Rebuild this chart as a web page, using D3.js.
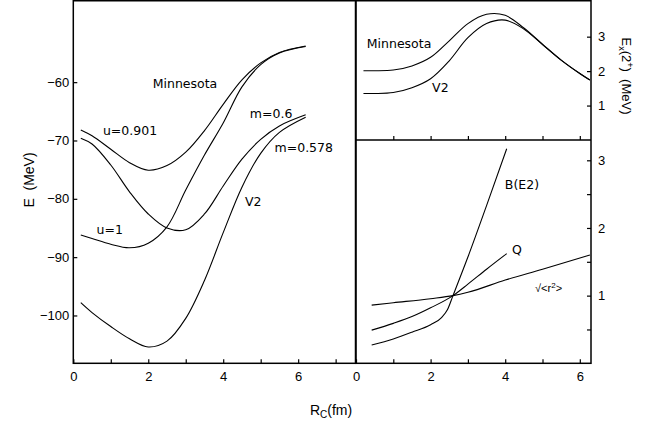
<!DOCTYPE html>
<html>
<head>
<meta charset="utf-8">
<script src="https://cdn.jsdelivr.net/npm/d3@7"></script>
<style>
body { margin: 0; background: #fff; }
text { font-family: "Liberation Sans", Arial, Helvetica, sans-serif; fill: #000; }
text.lbl { font-family: "DejaVu Sans", Verdana, sans-serif; }
</style>
</head>
<body>
<svg width="652" height="439"></svg>
<script>
// left panel: E (MeV) against R_C (fm)
var rLeft = [0.2, 0.5, 1.0, 1.5, 2.0, 2.5, 3.0, 3.5, 4.0, 4.5, 5.0, 5.5, 6.2];
var eMinnU0901 = [-68.2, -69.2, -71.5, -73.8, -75.1, -74.3, -72.0, -68.3, -63.8, -59.6, -56.7, -54.9, -53.8];
var eMinnU1 = [-86.2, -86.8, -87.8, -88.4, -87.6, -84.8, -78.5, -72.5, -67.0, -60.8, -57.0, -55.0, -53.9];
var eM06 = [-69.6, -70.6, -74.2, -78.8, -82.6, -85.0, -85.3, -82.6, -77.8, -73.2, -69.8, -67.5, -65.6];
var eV2 = [-97.8, -99.5, -101.9, -104.0, -105.4, -104.4, -100.5, -94.0, -85.8, -78.0, -72.2, -68.6, -66.0];

// top right: Ex(2+) (MeV)
var rTop = [0.2, 0.5, 1.0, 1.5, 2.0, 2.5, 3.0, 3.5, 4.0, 4.5, 5.0, 5.5, 6.0, 6.27];
var exMinn = [2.01, 2.01, 2.03, 2.15, 2.4, 2.88, 3.38, 3.65, 3.62, 3.25, 2.78, 2.32, 1.93, 1.74];
var exV2 = [1.35, 1.35, 1.38, 1.52, 1.78, 2.3, 2.97, 3.38, 3.48, 3.22, 2.77, 2.32, 1.93, 1.74];

// bottom right: ratios
var rBE2 = [0.42, 1.0, 1.5, 2.0, 2.3, 2.45, 2.6, 3.0, 3.5, 4.04];
var be2 = [0.27, 0.36, 0.46, 0.57, 0.68, 0.79, 1.0, 1.57, 2.33, 3.17];
var rQ = [0.42, 1.0, 1.5, 2.0, 2.6, 3.0, 3.5, 4.04];
var qv = [0.49, 0.59, 0.69, 0.82, 1.0, 1.17, 1.39, 1.62];
var rRad = [0.42, 1.0, 2.0, 2.6, 3.0, 4.0, 5.0, 6.27];
var radv = [0.86, 0.895, 0.955, 1.0, 1.05, 1.23, 1.39, 1.6];

var eTicks = [-60, -70, -80, -90, -100];
var rTicksL = [0, 1, 2, 3, 4, 5, 6, 7];
var rTicksR = [0, 1, 2, 3, 4, 5, 6];
var exTicks = [1, 2, 3];
var ratioTicks = [0.5, 1, 1.5, 2, 2.5, 3];

// curve labels, anchored in data units
var labelsL = [
    { t: "Minnesota", x: 2.12, y: -61.0 },
    { t: "u=0.901", x: 0.79, y: -69.0 },
    { t: "m=0.6", x: 4.71, y: -66.2 },
    { t: "m=0.578", x: 5.37, y: -71.9 },
    { t: "u=1", x: 0.62, y: -86.1 },
    { t: "V2", x: 4.58, y: -81.2 }
];
var labelsT = [
    { t: "Minnesota", x: 0.29, y: 2.68 },
    { t: "V2", x: 2.04, y: 1.38 }
];
var labelsB = [
    { t: "B(E2)", x: 3.99, y: 2.57 },
    { t: "Q", x: 4.18, y: 1.61 }
];

var svg = d3.select("svg");

var xL = d3.scaleLinear().domain([0, 7.53]).range([73.3, 355.5]);
var yL = d3.scaleLinear().domain([-108.2, -46]).range([363.3, 0.5]);
var xR = d3.scaleLinear().domain([0, 6.3]).range([356, 591]);
var yT = d3.scaleLinear().domain([0, 4.05]).range([140, 0.5]);
var yB = d3.scaleLinear().domain([0, 3.3]).range([363.3, 140]);

function minus(d) { return d < 0 ? "\u2212" + Math.abs(d) : d; }
function evens(d) { return d % 2 === 0 ? d : ""; }
function ints(d) { return d % 1 === 0 ? d : ""; }

function styleAxis(g) {
    g.select(".domain").remove();
    g.selectAll(".tick line").attr("stroke", "#000").attr("stroke-width", 1.2);
    g.attr("font-size", 13);
}

svg.append("g").attr("transform", "translate(73.3,0)")
    .call(d3.axisLeft(yL).tickValues(eTicks).tickSizeInner(-4).tickSizeOuter(0).tickPadding(4).tickFormat(minus))
    .call(styleAxis);
svg.append("g").attr("transform", "translate(0,363.3)")
    .call(d3.axisBottom(xL).tickValues(rTicksL).tickSizeInner(-4).tickSizeOuter(0).tickPadding(8).tickFormat(evens))
    .call(styleAxis);
svg.append("g").attr("transform", "translate(0,363.3)")
    .call(d3.axisBottom(xR).tickValues(rTicksR).tickSizeInner(-4).tickSizeOuter(0).tickPadding(8).tickFormat(evens))
    .call(styleAxis);
svg.append("g").attr("transform", "translate(0,140)")
    .call(d3.axisBottom(xR).tickValues(rTicksR.slice(1)).tickSizeInner(-4).tickSizeOuter(0).tickFormat(""))
    .call(styleAxis);
svg.append("g").attr("transform", "translate(591,0)")
    .call(d3.axisRight(yT).tickValues(exTicks).tickSizeInner(-4).tickSizeOuter(0).tickPadding(7).tickFormat(ints))
    .call(styleAxis);
svg.append("g").attr("transform", "translate(591,0)")
    .call(d3.axisRight(yB).tickValues(ratioTicks).tickSizeInner(-4).tickSizeOuter(0).tickPadding(7).tickFormat(ints))
    .call(styleAxis);

// frames
var frame = svg.append("g").attr("fill", "none").attr("stroke", "#000").attr("stroke-width", 1.5);
frame.append("rect").attr("x", xL.range()[0]).attr("y", 0.75)
    .attr("width", xL.range()[1] - xL.range()[0]).attr("height", 363.3 - 0.75);
frame.append("rect").attr("x", xR.range()[0]).attr("y", 0.75)
    .attr("width", xR.range()[1] - xR.range()[0]).attr("height", 363.3 - 0.75);
frame.append("line").attr("x1", xR.range()[0]).attr("x2", xR.range()[1])
    .attr("y1", yT(0)).attr("y2", yT(0));

function zip(xs, ys) { return xs.map(function(x, i) { return [x, ys[i]]; }); }

function drawCurve(xs, ys, sx, sy, curve) {
    var line = d3.line()
        .x(function(d) { return sx(d[0]); })
        .y(function(d) { return sy(d[1]); })
        .curve(curve);
    svg.append("path")
        .datum(zip(xs, ys))
        .attr("fill", "none")
        .attr("stroke", "#000")
        .attr("stroke-width", 1.1)
        .attr("d", line);
}

var smooth = d3.curveCatmullRom.alpha(0.5);
drawCurve(rLeft, eMinnU0901, xL, yL, smooth);
drawCurve(rLeft, eMinnU1, xL, yL, smooth);
drawCurve(rLeft, eM06, xL, yL, smooth);
drawCurve(rLeft, eV2, xL, yL, smooth);
drawCurve(rTop, exMinn, xR, yT, smooth);
drawCurve(rTop, exV2, xR, yT, smooth);
drawCurve(rBE2, be2, xR, yB, d3.curveMonotoneX);
drawCurve(rQ, qv, xR, yB, d3.curveMonotoneX);
drawCurve(rRad, radv, xR, yB, d3.curveMonotoneX);

function drawLabels(list, sx, sy) {
    svg.append("g").attr("font-size", 12.5)
        .selectAll("text").data(list).enter().append("text")
        .attr("class", "lbl")
        .attr("x", function(d) { return sx(d.x); })
        .attr("y", function(d) { return sy(d.y); })
        .text(function(d) { return d.t; });
}
drawLabels(labelsL, xL, yL);
drawLabels(labelsT, xR, yT);
drawLabels(labelsB, xR, yB);

// sqrt<r^2> label
var rad = svg.append("text").attr("font-size", 11)
    .attr("x", xR(4.8)).attr("y", yB(1.05));
rad.append("tspan").text("\u221A<r");
rad.append("tspan").attr("font-size", 8).attr("dy", -4).text("2");
rad.append("tspan").attr("dy", 4).text(">");

// axis titles
svg.append("text").attr("font-size", 14).attr("text-anchor", "middle")
    .style("white-space", "pre")
    .attr("transform", "translate(34,180) rotate(-90)")
    .text("E  (MeV)");

var ex = svg.append("text").attr("font-size", 13).attr("text-anchor", "middle")
    .style("white-space", "pre")
    .attr("transform", "translate(622,76) rotate(90)");
ex.append("tspan").text("E");
ex.append("tspan").attr("font-size", 9).attr("dy", 3).text("x");
ex.append("tspan").attr("dy", -3).text("(2");
ex.append("tspan").attr("font-size", 9).attr("dy", -5).text("+");
ex.append("tspan").attr("dy", 5).text(")  (MeV)");

var rc = svg.append("text").attr("font-size", 14).attr("text-anchor", "middle")
    .attr("x", 331).attr("y", 415);
rc.append("tspan").text("R");
rc.append("tspan").attr("font-size", 10).attr("dy", 3).text("C");
rc.append("tspan").attr("dy", -3).text("(fm)");
</script>
</body>
</html>
